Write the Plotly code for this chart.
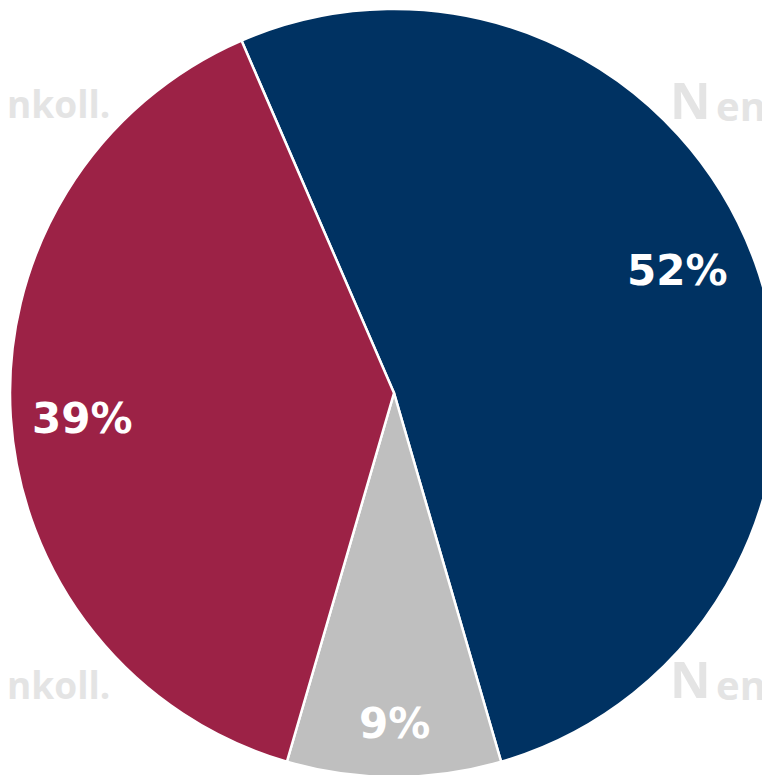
import math
import plotly.graph_objects as go

categories = ["Navy", "Gray", "Crimson"]
values = [52, 9, 39]
label_texts = ["52%", "9%", "39%"]
colors = ["#003262", "#BFBFBF", "#9C2246"]

ROTATION = -23.4
# label placement style (fraction of radius, angular shift in degrees)
label_radius = [0.805, 0.86, 0.815]
label_shift = [-3.5, 0.0, -1.0]

fig = go.Figure(
    go.Pie(
        labels=categories,
        values=values,
        textinfo="none",
        marker=dict(colors=colors, line=dict(color="white", width=2.5)),
        sort=False,
        direction="clockwise",
        rotation=ROTATION,
        hoverinfo="skip",
        domain=dict(x=[0, 1], y=[0, 1]),
    )
)

annotations = []
total = sum(values)
start = ROTATION
for v, t, f, s in zip(values, label_texts, label_radius, label_shift):
    mid = math.radians(start + 360 * v / total / 2 + s)
    start += 360 * v / total
    annotations.append(dict(
        x=0.5 + 0.5 * f * math.sin(mid), y=0.5 + 0.5 * f * math.cos(mid),
        xref="paper", yref="paper", text=t, showarrow=False,
        xanchor="center", yanchor="middle",
        font=dict(family="DejaVu Sans", size=42, color="white", weight="bold"),
    ))

# watermark texts (window pixel positions -> paper)
L, T, S = 10, 9, 768
wm_color = "#E4E4E4"
watermarks = [
    (112, 104, "nkoll.", "right", 37),
    (112, 684, "nkoll.", "right", 37),
    (714, 105, "en", "left", 40),
    (714, 684, "en", "left", 40),
    (690, 100, "N", "center", 50),
    (690, 679, "N", "center", 50),
]
for X, Y, txt, anc, sz in watermarks:
    annotations.append(dict(
        x=(X - L) / S, y=1 - (Y - T) / S, xref="paper", yref="paper",
        text=txt, xanchor=anc, yanchor="middle", showarrow=False,
        font=dict(family="Open Sans", size=sz, color=wm_color, weight="bold"),
    ))

fig.update_layout(
    width=770,
    height=775,
    margin=dict(l=2, r=0, t=1, b=6),
    paper_bgcolor="white",
    plot_bgcolor="white",
    showlegend=False,
    annotations=annotations,
)

fig.write_html("out.html")
